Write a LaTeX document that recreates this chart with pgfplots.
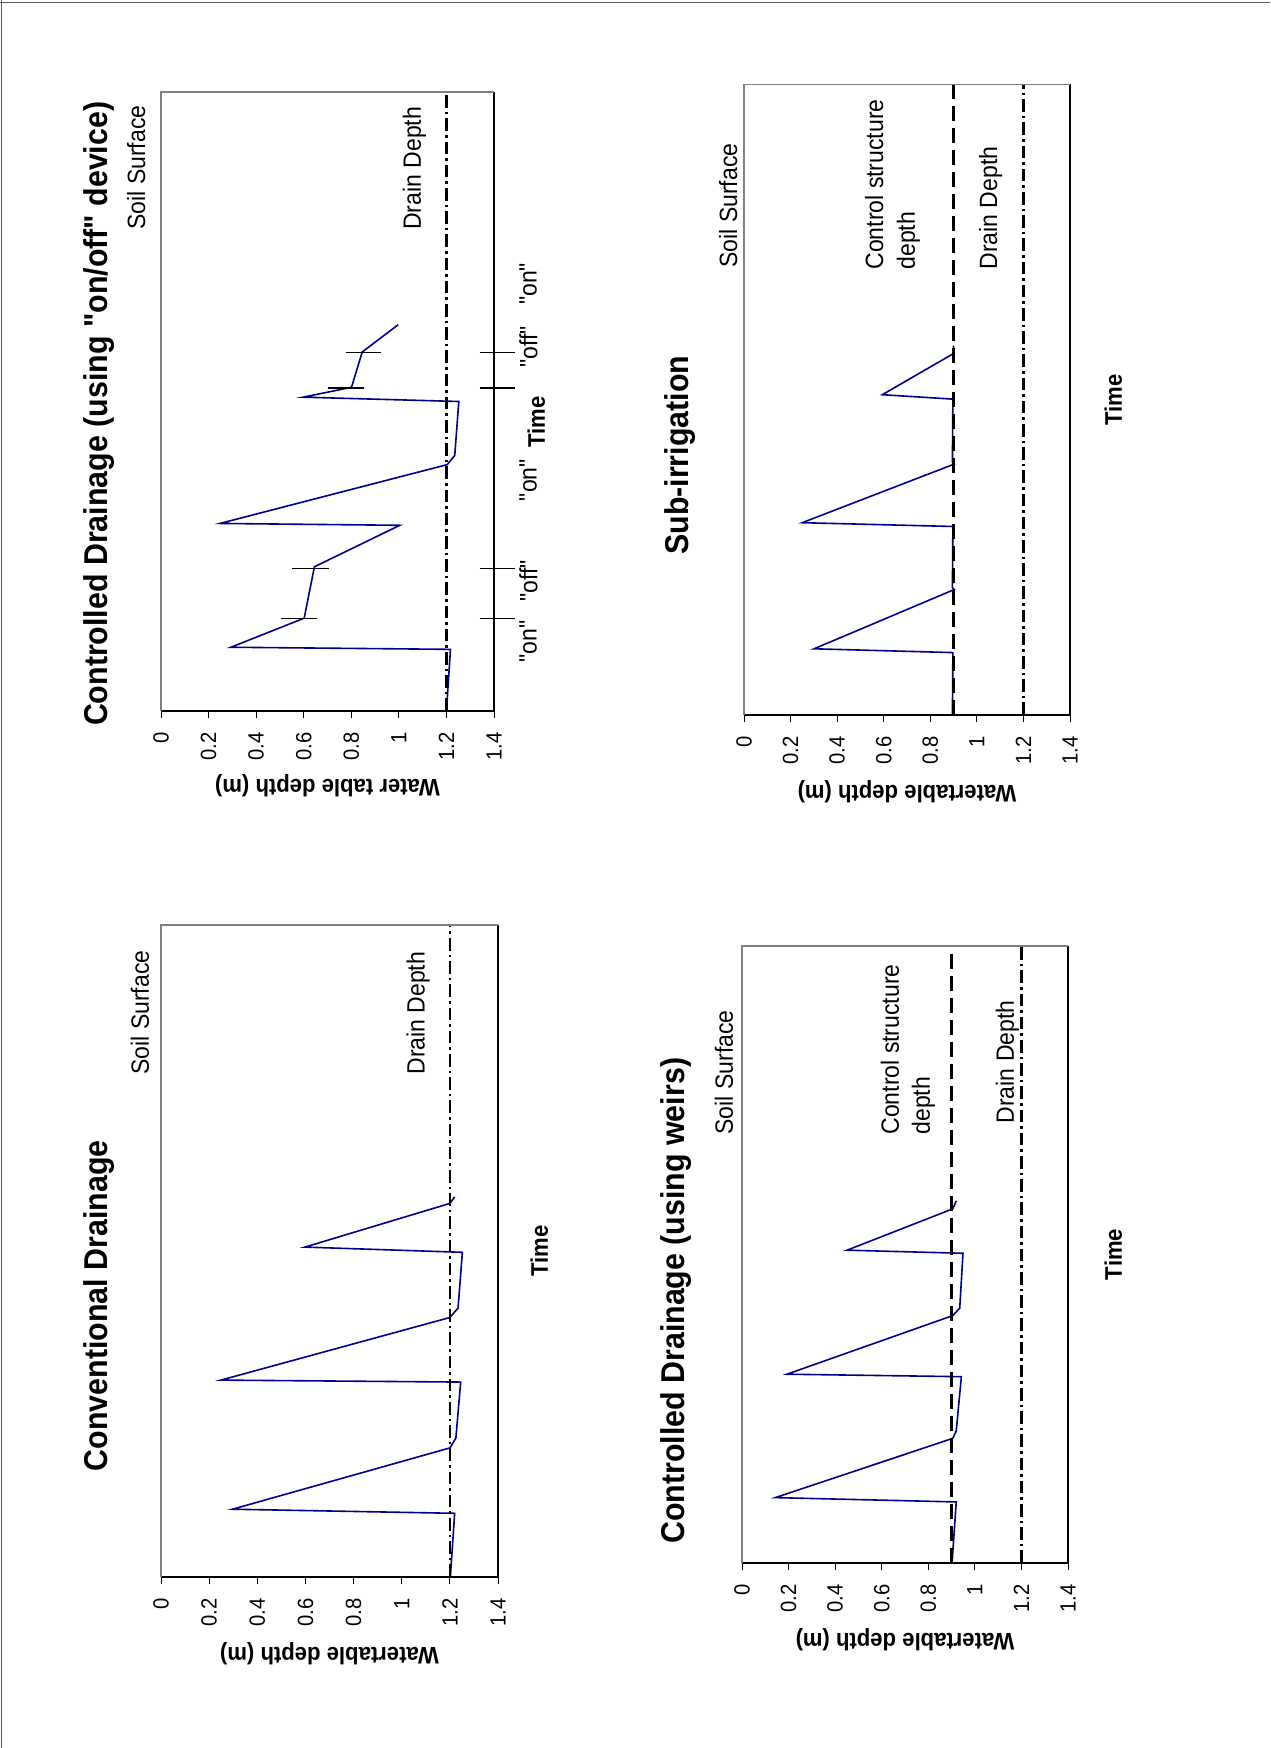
\documentclass[border=0pt]{standalone}
\usepackage{fontspec}
\setmainfont{Liberation Sans}[FakeStretch=0.92, Ligatures=TeXOff]
\usepackage{pgfplots}
\pgfplotsset{compat=1.18}
\definecolor{wtblue}{RGB}{0,0,140}
\definecolor{framec}{RGB}{90,90,90}
\newcommand\tfont{\fontsize{16.5}{19}\selectfont\bfseries}
\newcommand\lfont{\fontsize{12.5}{15}\selectfont}
\newcommand\afont{\fontsize{12}{14}\selectfont\bfseries}
\tikzset{txt/.style={rotate=90, inner sep=0pt}}
\pgfplotsset{
 wt/.style={
   scale only axis, anchor=south west,
   xmin=0,xmax=1.4,ymin=0,ymax=100,
   ytick=\empty,
   xtick={0,0.2,0.4,0.6,0.8,1,1.2,1.4},
   xticklabels={0,0.2,0.4,0.6,0.8,1,1.2,1.4},
   xtick pos=bottom, tick align=outside, major tick length=3.5pt,
   every tick/.style={black, line width=0.5pt},
   axis line style={draw=none},
   xticklabel style={font=\fontsize{11}{13}\selectfont, inner sep=0pt, rotate=90, anchor=east},
   xticklabel shift=7pt,
   clip=false,
 },
 wl/.style={wtblue, line width=0.8pt},
 drain/.style={black, line width=1.15pt, dash pattern=on 6.3pt off 2pt on 1.3pt off 2pt},
 ctrl/.style={black, line width=1.15pt, dash pattern=on 7.5pt off 3.5pt},
 onoff/.style={black, line width=0.65pt},
}
\begin{document}
\begin{tikzpicture}[x=0.5pt,y=0.5pt]
\path[use as bounding box] (0,0) rectangle (1270,-1748);
\draw[framec, line width=0.75pt] (0,-2.5) -- (1270,-2.5);
\draw[framec, line width=0.75pt] (1.5,0) -- (1.5,-1748);

% ---------- A: Conventional Drainage ----------
\begin{axis}[wt, at={(80.5pt,-788.5pt)}, width=168.5pt, height=326pt]
\addplot[wl] coordinates {(1.202,0) (1.220,9.77) (0.297,10.4) (1.200,19.8) (1.225,21.3) (1.245,29.9) (0.249,30.2) (1.200,39.8) (1.234,41.25) (1.252,49.8) (0.598,50.6) (1.200,57.3) (1.220,58.3)};
\addplot[drain] coordinates {(1.2,0) (1.2,100)};
\draw[black, line width=0.65pt] (axis cs:0,0) -- (axis cs:1.4,0) -- (axis cs:1.4,100);
\draw[black!50, line width=0.65pt] (axis cs:0,0) -- (axis cs:0,100) -- (axis cs:1.4,100);
\node[txt, anchor=base, font=\tfont] at (axis cs:-0.224,41.6) {Conventional Drainage};
\node[txt, anchor=base west, font=\lfont] at (axis cs:-0.05,77) {Soil Surface};
\node[txt, anchor=base west, font=\lfont] at (axis cs:1.095,77) {Drain Depth};
\node[rotate=180, inner sep=0pt, anchor=base, font=\afont] at (axis cs:0.7,-10.74) {Watertable depth (m)};
\node[txt, anchor=north, font=\afont] at (axis cs:1.533,50) {Time};
\end{axis}

% ---------- B: Controlled Drainage on/off ----------
\begin{axis}[wt, at={(80.5pt,-355.5pt)}, width=166.5pt, height=309.5pt]
\addplot[wl] coordinates {(1.200,0) (1.217,9.96) (0.294,10.3) (0.602,15.0) (0.645,23.3) (1.004,30.0) (0.248,30.3) (1.203,39.8) (1.235,41.3) (1.252,50.0) (0.598,50.7) (0.801,52.3) (0.846,58.0) (0.997,62.4)};
\addplot[drain] coordinates {(1.2,0) (1.2,100)};
\addplot[onoff] coordinates {(0.503,15.0) (0.654,15.0)};
\addplot[onoff] coordinates {(0.552,23.05) (0.707,23.05)};
\addplot[onoff] coordinates {(0.703,52.2) (0.853,52.2)};
\addplot[onoff] coordinates {(0.776,57.9) (0.923,57.9)};
\addplot[onoff] coordinates {(1.34,15.0) (1.49,15.0)};
\addplot[onoff] coordinates {(1.34,23.05) (1.49,23.05)};
\addplot[onoff] coordinates {(1.34,52.2) (1.49,52.2)};
\addplot[onoff] coordinates {(1.34,57.9) (1.49,57.9)};
\draw[black, line width=0.65pt] (axis cs:0,0) -- (axis cs:1.4,0) -- (axis cs:1.4,100);
\draw[black!50, line width=0.65pt] (axis cs:0,0) -- (axis cs:0,100) -- (axis cs:1.4,100);
\node[txt, anchor=base, font=\tfont] at (axis cs:-0.223,48.0) {Controlled Drainage (using "on/off" device)};
\node[txt, anchor=base west, font=\lfont] at (axis cs:-0.067,77.7) {Soil Surface};
\node[txt, anchor=base west, font=\lfont] at (axis cs:1.093,77.7) {Drain Depth};
\node[rotate=180, inner sep=0pt, anchor=base, font=\afont] at (axis cs:0.7,-11.1) {Water table depth (m)};
\node[txt, anchor=north, font=\afont] at (axis cs:1.539,46.7) {Time};
\node[txt, anchor=north, font=\lfont] at (axis cs:1.505,11.2) {"on"};
\node[txt, anchor=north, font=\lfont] at (axis cs:1.505,21.0) {"off"};
\node[txt, anchor=north, font=\lfont] at (axis cs:1.505,37.3) {"on"};
\node[txt, anchor=north, font=\lfont] at (axis cs:1.505,58.8) {"off"};
\node[txt, anchor=north, font=\lfont] at (axis cs:1.505,69.0) {"on"};
\end{axis}

% ---------- C: Sub-irrigation ----------
\begin{axis}[wt, at={(372pt,-357.5pt)}, width=163pt, height=315.25pt]
\addplot[wl] coordinates {(0.895,0) (0.897,9.9) (0.301,10.5) (0.903,19.9) (0.895,20.2) (0.897,29.9) (0.250,30.5) (0.903,39.8) (0.895,40.1) (0.897,50.1) (0.594,50.8) (0.903,57.4) (0.899,58.6)};
\addplot[ctrl] coordinates {(0.9,0) (0.9,100)};
\addplot[drain] coordinates {(1.2,0) (1.2,100)};
\draw[black, line width=0.65pt] (axis cs:0,0) -- (axis cs:1.4,0) -- (axis cs:1.4,100);
\draw[black!50, line width=0.65pt] (axis cs:0,0) -- (axis cs:0,100) -- (axis cs:1.4,100);
\node[txt, anchor=base, font=\tfont] at (axis cs:-0.240,41.2) {Sub-irrigation};
\node[txt, anchor=base west, font=\lfont] at (axis cs:-0.030,70.9) {Soil Surface};
\node[txt, anchor=base west, font=\lfont] at (axis cs:0.597,70.6) {Control structure};
\node[txt, anchor=base west, font=\lfont] at (axis cs:0.734,70.6) {depth};
\node[txt, anchor=base west, font=\lfont] at (axis cs:1.087,70.6) {Drain Depth};
\node[rotate=180, inner sep=0pt, anchor=base, font=\afont] at (axis cs:0.7,-11.26) {Watertable depth (m)};
\node[txt, anchor=north, font=\afont] at (axis cs:1.546,50) {Time};
\end{axis}

% ---------- D: Controlled Drainage weirs ----------
\begin{axis}[wt, at={(371pt,-781.5pt)}, width=163pt, height=308.5pt]
\addplot[wl] coordinates {(0.902,0) (0.920,9.9) (0.143,10.6) (0.905,20.2) (0.920,21.4) (0.942,30.2) (0.193,30.6) (0.905,40.1) (0.935,41.3) (0.949,50.2) (0.451,50.7) (0.905,57.4) (0.920,58.7)};
\addplot[ctrl] coordinates {(0.9,0) (0.9,100)};
\addplot[drain] coordinates {(1.2,0) (1.2,100)};
\draw[black, line width=0.65pt] (axis cs:0,0) -- (axis cs:1.4,0) -- (axis cs:1.4,100);
\draw[black!50, line width=0.65pt] (axis cs:0,0) -- (axis cs:0,100) -- (axis cs:1.4,100);
\node[txt, anchor=base, font=\tfont] at (axis cs:-0.249,42.5) {Controlled Drainage (using weirs)};
\node[txt, anchor=base west, font=\lfont] at (axis cs:-0.039,69.4) {Soil Surface};
\node[txt, anchor=base west, font=\lfont] at (axis cs:0.674,69.4) {Control structure};
\node[txt, anchor=base west, font=\lfont] at (axis cs:0.807,69.4) {depth};
\node[txt, anchor=base west, font=\lfont] at (axis cs:1.168,71.2) {Drain Depth};
\node[rotate=180, inner sep=0pt, anchor=base, font=\afont] at (axis cs:0.7,-11.35) {Watertable depth (m)};
\node[txt, anchor=north, font=\afont] at (axis cs:1.555,50) {Time};
\end{axis}
\end{tikzpicture}
\end{document}
